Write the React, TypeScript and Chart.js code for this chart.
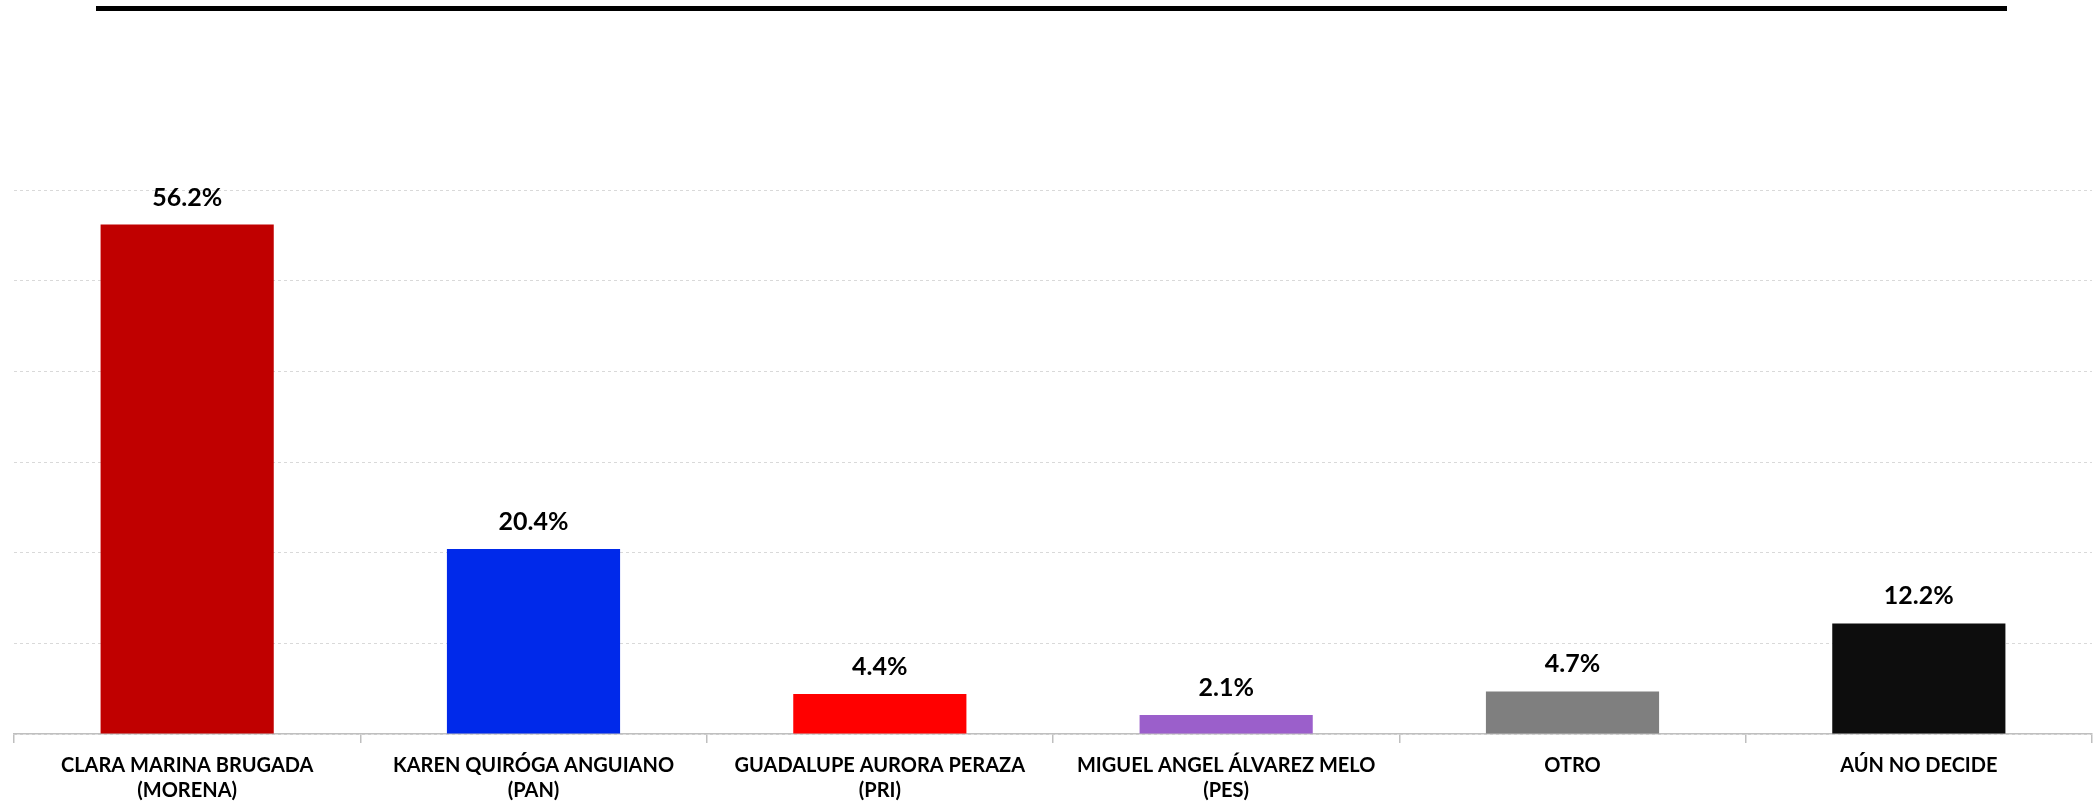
import React, { useEffect, useRef } from "react";
import { Chart, registerables } from "chart.js";

Chart.register(...registerables);

const categories: (string | string[])[] = [
  ["CLARA MARINA BRUGADA", "(MORENA)"],
  ["KAREN QUIRÓGA ANGUIANO", "(PAN)"],
  ["GUADALUPE AURORA PERAZA", "(PRI)"],
  ["MIGUEL ANGEL ÁLVAREZ MELO", "(PES)"],
  "OTRO",
  "AÚN NO DECIDE",
];
const values = [56.2, 20.4, 4.4, 2.1, 4.7, 12.2];
const barColors = ["#C00000", "#0029EA", "#FF0000", "#9B5FCB", "#7F7F7F", "#0D0D0D"];

const valueLabels = {
  id: "valueLabels",
  afterDatasetsDraw(chart: any) {
    const ctx = chart.ctx;
    const meta = chart.getDatasetMeta(0);
    ctx.save();
    ctx.font = "bold 25px Lato";
    ctx.fillStyle = "#000000";
    ctx.textAlign = "center";
    ctx.textBaseline = "middle";
    meta.data.forEach((bar: any, i: number) => {
      ctx.fillText(values[i].toFixed(1) + "%", bar.x, bar.y - 27);
    });
    ctx.restore();
  },
};

export default function App() {
  const ref = useRef<HTMLCanvasElement>(null);
  useEffect(() => {
    document.body.style.margin = "0";
    const chart = new Chart(ref.current!, {
      type: "bar",
      data: {
        labels: categories,
        datasets: [
          {
            data: values,
            backgroundColor: barColors,
            borderWidth: 0,
            barPercentage: 0.5,
            categoryPercentage: 1,
          },
        ],
      },
      options: {
        animation: false,
        responsive: false,
        layout: { padding: { top: 190, left: 14, right: 6, bottom: 0 } },
        plugins: { legend: { display: false }, tooltip: { enabled: false } },
        scales: {
          x: {
            afterFit: (s: any) => {
              s.height = 73;
            },
            grid: {
              display: true,
              drawOnChartArea: false,
              drawTicks: true,
              tickLength: 9,
              color: "#BFBFBF",
              lineWidth: 1.5,
            },
            border: { display: true, color: "#BFBFBF", width: 1.5 },
            ticks: {
              color: "#000000",
              font: { family: "Lato", size: 20, weight: "bold", lineHeight: 1.25 },
              padding: 10,
              maxRotation: 0,
              autoSkip: false,
            },
          },
          y: {
            min: 0,
            max: 60,
            afterFit: (s: any) => {
              s.width = 0;
            },
            ticks: { display: false, stepSize: 10 },
            grid: {
              color: "#D9D9D9",
              lineWidth: 1,
              drawTicks: false,
            },
            border: { display: false, dash: [3, 3] },
          },
        },
      },
      plugins: [valueLabels],
    });
    return () => chart.destroy();
  }, []);
  return (
    <div style={{ position: "relative", width: 2098, height: 807, background: "#FFFFFF" }}>
      <div
        style={{
          position: "absolute",
          left: 96,
          top: 6,
          width: 1911,
          height: 5,
          background: "#000000",
        }}
      />
      <canvas ref={ref} width={2098} height={807} style={{ display: "block" }} />
    </div>
  );
}
